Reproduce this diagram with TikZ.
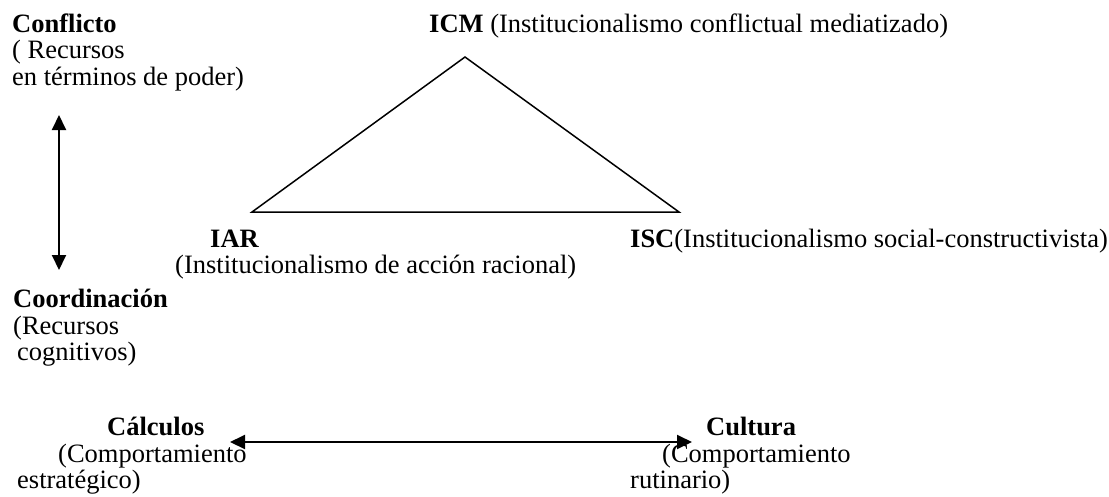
\documentclass[tikz,border=0pt]{standalone}
\usepackage{fontspec}
\setmainfont{Liberation Serif}
\usetikzlibrary{arrows.meta}

\tikzset{
    txt/.style={anchor=base west, inner sep=0pt, font=\fontsize{26.5}{27}\selectfont},
    link/.style={line width=2pt, {Triangle[length=15pt,width=14pt]}-{Triangle[length=15pt,width=14pt]}},
}

\begin{document}
\begin{tikzpicture}[x=1pt,y=-1pt]
    \useasboundingbox (0,0) rectangle (1109,496);

    % left column
    \node[txt] (conf) at (12,32) {\textbf{Conflicto}};
    \node[txt] (conf2) at (12,58) {( Recursos};
    \node[txt] (conf3) at (12,85) {en términos de poder)};
    \node[txt] (coord) at (13,307) {\textbf{Coordinación}};
    \node[txt] (coord2) at (13,334) {(Recursos};
    \node[txt] (coord3) at (17,360) {cognitivos)};

    % corners of the triangle
    \node[txt] (icmlbl) at (429,32) {\textbf{ICM} (Institucionalismo conflictual mediatizado)};
    \node[txt] (iarlbl) at (210,247) {\textbf{IAR}};
    \node[txt] (iarlbl2) at (175,273) {(Institucionalismo de acción racional)};
    \node[txt] (isclbl) at (630,247) {\textbf{ISC}(Institucionalismo social-constructivista)};

    % bottom row
    \node[txt] (calc) at (107,435) {\textbf{Cálculos}};
    \node[txt] (calc2) at (58,462) {(Comportamiento};
    \node[txt] (calc3) at (17,488) {estratégico)};
    \node[txt] (cult) at (706,435) {\textbf{Cultura}};
    \node[txt] (cult2) at (662,462) {(Comportamiento};
    \node[txt] (cult3) at (630,488) {rutinario)};

    \coordinate (icm) at (465,57);
    \coordinate (iar) at (252,212);
    \coordinate (isc) at (679,212);
    \draw[line width=1.5pt] (icm) -- (iar) -- (isc) -- cycle;

    \coordinate (up) at (59,115);
    \coordinate (down) at (59,270);
    \draw[link] (up) -- (down);

    \coordinate (left) at (230,442);
    \coordinate (right) at (692,442);
    \draw[link] (left) -- (right);
\end{tikzpicture}
\end{document}
